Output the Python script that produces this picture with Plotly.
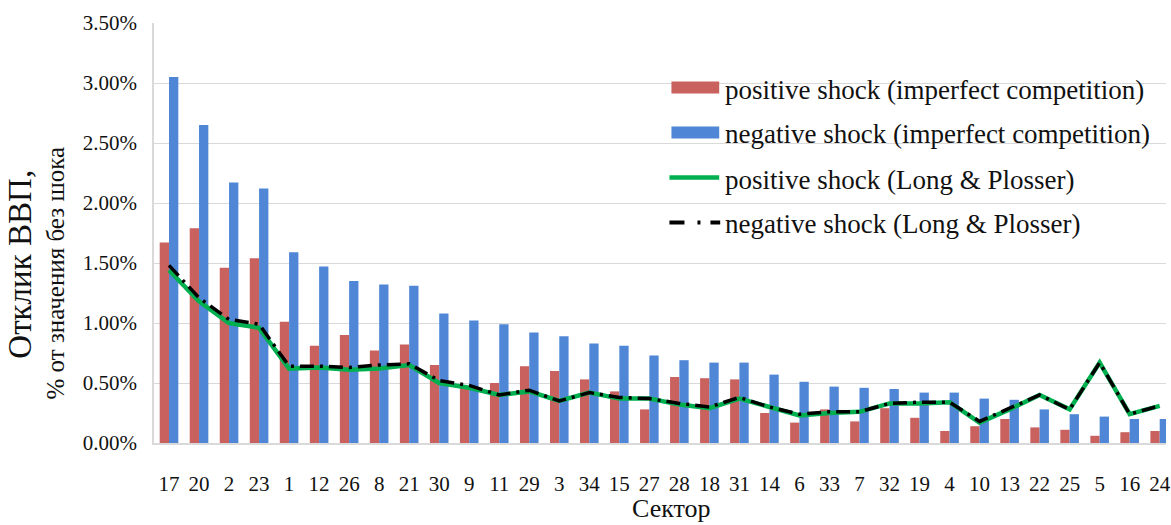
import plotly.graph_objects as go

# Sector order along the x axis
sectors = ["17", "20", "2", "23", "1", "12", "26", "8", "21", "30", "9", "11", "29", "3",
           "34", "15", "27", "28", "18", "31", "14", "6", "33", "7", "32", "19", "4", "10",
           "13", "22", "25", "5", "16", "24"]

# GDP response, % of the no-shock value
pos_imperfect = [1.67, 1.79, 1.46, 1.54, 1.01, 0.81, 0.90, 0.77, 0.82, 0.65, 0.47, 0.50, 0.64, 0.60,
                 0.53, 0.43, 0.28, 0.55, 0.54, 0.53, 0.25, 0.17, 0.28, 0.18, 0.29, 0.21, 0.10, 0.14,
                 0.20, 0.13, 0.11, 0.06, 0.09, 0.10]
neg_imperfect = [3.05, 2.65, 2.17, 2.12, 1.59, 1.47, 1.35, 1.32, 1.31, 1.08, 1.02, 0.99, 0.92, 0.89,
                 0.83, 0.81, 0.73, 0.69, 0.67, 0.67, 0.57, 0.51, 0.47, 0.46, 0.45, 0.42, 0.42, 0.37,
                 0.36, 0.28, 0.24, 0.22, 0.20, 0.20]
pos_lp = [1.44, 1.18, 1.00, 0.96, 0.62, 0.63, 0.61, 0.62, 0.65, 0.50, 0.46, 0.40, 0.43, 0.35,
          0.42, 0.37, 0.37, 0.32, 0.29, 0.37, 0.30, 0.23, 0.25, 0.26, 0.33, 0.33, 0.34, 0.17,
          0.28, 0.40, 0.28, 0.67, 0.24, 0.31]
neg_lp = [1.48, 1.21, 1.03, 0.99, 0.64, 0.64, 0.63, 0.65, 0.66, 0.52, 0.48, 0.40, 0.44, 0.35,
          0.42, 0.38, 0.37, 0.33, 0.30, 0.38, 0.30, 0.24, 0.26, 0.26, 0.33, 0.34, 0.34, 0.18,
          0.29, 0.40, 0.28, 0.67, 0.24, 0.31]

legend_labels = ["positive shock (imperfect competition)",
                 "negative shock (imperfect competition)",
                 "positive shock (Long & Plosser)",
                 "negative shock (Long & Plosser)"]

RED = "#C9625E"
BLUE = "#4F87D6"
GREEN = "#00B050"
BLACK = "#000000"
DASH = "14px,6px,3px,6px"
SERIF = "Liberation Serif, Times New Roman, serif"

W, H = 1171, 525
ML, MR, MT, MB = 154, 0, 23, 82
PW, PH = W - ML - MR, H - MT - MB


def px_x(x):
    return (x - ML) / PW


def px_y(y):
    return (H - MB - y) / PH


fig = go.Figure()
fig.add_trace(go.Bar(x=sectors, y=pos_imperfect, name=legend_labels[0],
                     marker=dict(color=RED, line=dict(width=0)), showlegend=False))
fig.add_trace(go.Bar(x=sectors, y=neg_imperfect, name=legend_labels[1],
                     marker=dict(color=BLUE, line=dict(width=0)), showlegend=False))
fig.add_trace(go.Scatter(x=sectors, y=pos_lp, name=legend_labels[2], mode="lines",
                         line=dict(color=GREEN, width=4.5), showlegend=False))
fig.add_trace(go.Scatter(x=sectors, y=neg_lp, name=legend_labels[3], mode="lines",
                         line=dict(color=BLACK, width=3.5, dash=DASH), showlegend=False))

# Legend built from swatches and labels
rows = [87.5, 132.5, 177.5, 222.5]
shapes = []
for i, yc in enumerate(rows):
    if i < 2:
        shapes.append(dict(type="rect", xref="paper", yref="paper",
                           x0=px_x(674), x1=px_x(722), y0=px_y(yc + 6), y1=px_y(yc - 6),
                           fillcolor=[RED, BLUE][i], line=dict(width=0)))
    elif i == 2:
        shapes.append(dict(type="line", xref="paper", yref="paper",
                           x0=px_x(672), x1=px_x(722), y0=px_y(yc), y1=px_y(yc),
                           line=dict(color=GREEN, width=4.5)))
    else:
        shapes.append(dict(type="line", xref="paper", yref="paper",
                           x0=px_x(672), x1=px_x(723), y0=px_y(yc), y1=px_y(yc),
                           line=dict(color=BLACK, width=4, dash="15px,13px,3px,10px")))

annotations = []
for lab, yc in zip(legend_labels, rows):
    annotations.append(dict(text=lab, xref="paper", yref="paper",
                            x=px_x(726), y=px_y(yc + 2), xanchor="left", yanchor="middle",
                            showarrow=False, font=dict(family=SERIF, size=27, color="#111")))

# Axis titles
annotations.append(dict(text="Сектор", xref="paper", yref="paper",
                        x=px_x(674), y=px_y(509), xanchor="center", yanchor="middle",
                        showarrow=False, font=dict(family=SERIF, size=26, color="#111")))
annotations.append(dict(text="Отклик ВВП,", xref="paper", yref="paper", textangle=-90,
                        x=px_x(19), y=px_y(264), xanchor="center", yanchor="middle",
                        showarrow=False, font=dict(family=SERIF, size=33, color="#111")))
annotations.append(dict(text="% от значения без шока", xref="paper", yref="paper", textangle=-90,
                        x=px_x(55), y=px_y(273), xanchor="center", yanchor="middle",
                        showarrow=False, font=dict(family=SERIF, size=25, color="#111")))

fig.update_layout(
    width=W, height=H,
    margin=dict(l=ML, r=MR, t=MT, b=MB, pad=0),
    paper_bgcolor="white", plot_bgcolor="white",
    barmode="group", bargap=0.38, bargroupgap=0,
    font=dict(family=SERIF, size=21, color="#111"),
    shapes=shapes, annotations=annotations,
    showlegend=False,
)
fig.update_xaxes(type="category", range=[-0.5, 33.21], showgrid=False,
                 showline=True, linecolor="#D9D9D9", linewidth=1.5,
                 ticks="", tickfont=dict(family=SERIF, size=21, color="#111"),
                 ticklabelstandoff=21)
fig.update_yaxes(range=[0, 3.5], dtick=0.5, tickformat=".2f", ticksuffix="%",
                 showgrid=True, gridcolor="#D9D9D9", gridwidth=1,
                 showline=True, linecolor="#D9D9D9", linewidth=1.5, zeroline=False,
                 ticks="", tickfont=dict(family=SERIF, size=21, color="#111"),
                 ticklabelstandoff=11)

fig.write_html("out.html")
